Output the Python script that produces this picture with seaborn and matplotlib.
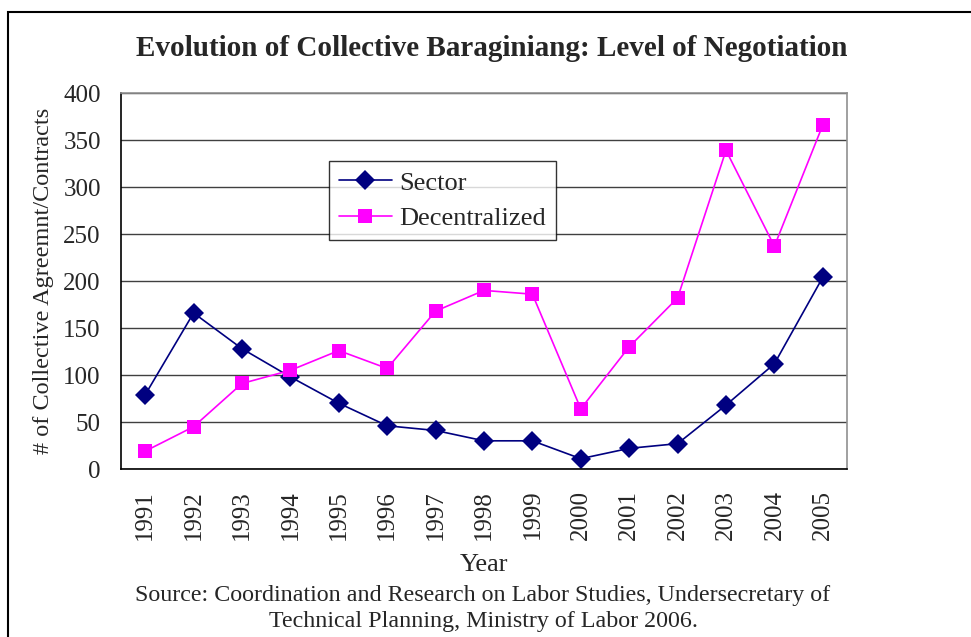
import numpy as np
import pandas as pd
import seaborn as sns
import matplotlib.pyplot as plt
from matplotlib.patches import Rectangle

years = ['1991', '1992', '1993', '1994', '1995', '1996', '1997', '1998',
         '1999', '2000', '2001', '2002', '2003', '2004', '2005']
sector = [79, 166, 128, 98, 70, 46, 41, 30, 30, 11, 22, 27, 68, 112, 204]
decentralized = [19, 45, 91, 105, 126, 107, 168, 190, 186, 64, 130, 182, 339, 237, 366]

sns.set_style('white')
plt.rcParams['font.family'] = ['Liberation Serif', 'DejaVu Serif']

df = pd.DataFrame({
    'pos': list(range(len(years))) * 2,
    'value': sector + decentralized,
    'series': ['Sector'] * len(years) + ['Decentralized'] * len(years),
})

fig = plt.figure(figsize=(9.71, 6.37), dpi=100)
ax = fig.add_axes([0.1246, 0.2637, 0.7477, 0.5903])

# outer frame of the figure
fig.patches.append(Rectangle((8 / 971, -0.05), 1.2, 1 - 12 / 637 + 0.05,
                             transform=fig.transFigure, fill=False,
                             edgecolor='black', linewidth=1.5))

sns.lineplot(data=df, x='pos', y='value', hue='series', style='series',
             palette={'Sector': '#000080', 'Decentralized': '#FF00FF'},
             markers={'Sector': 'D', 'Decentralized': 's'},
             dashes=False, markersize=10, markeredgewidth=0,
             linewidth=1.2, ax=ax)

ax.set_xlim(-0.5, len(years) - 0.5)
ax.set_ylim(0, 400)
ax.set_yticks(np.arange(0, 401, 50))
ax.set_xticks(range(len(years)))
ax.set_xticklabels(years, rotation=90, fontsize=18)
ax.set_xticks(np.arange(-0.5, len(years), 1), minor=True)
ax.tick_params(axis='x', which='major', length=0, pad=15)
ax.tick_params(axis='x', which='minor', direction='out', length=6.5, width=1, color='black')
ax.tick_params(axis='y', direction='out', length=6.5, width=1, color='black', labelsize=18, pad=8)

ax.yaxis.grid(True, color='#404040', linewidth=1)
ax.set_axisbelow(True)
for side in ['top', 'right']:
    ax.spines[side].set_color('#909090')
    ax.spines[side].set_linewidth(1.2)
for side in ['left', 'bottom']:
    ax.spines[side].set_color('black')
    ax.spines[side].set_linewidth(1.2)

ax.set_xlabel('Year', fontsize=19, labelpad=10)
ax.set_ylabel('# of Collective Agreemnt/Contracts', fontsize=17.5, labelpad=7)

leg = ax.legend(loc='upper left', bbox_to_anchor=(0.2865, 0.819), borderaxespad=0,
                fontsize=19, frameon=True, fancybox=False, edgecolor='black',
                handlelength=2.0, handletextpad=0.3, borderpad=0.38, labelspacing=0.45)
leg.get_frame().set_linewidth(1)
leg.set_title(None)

fig.text(492 / 971, 1 - 48 / 637, 'Evolution of Collective Baraginiang: Level of Negotiation',
         ha='center', va='center', fontsize=21, fontweight='bold')
fig.text(483 / 971, 1 - 595 / 637,
         'Source: Coordination and Research on Labor Studies, Undersecretary of',
         ha='center', va='center', fontsize=17.3)
fig.text(483 / 971, 1 - 622 / 637, 'Technical Planning, Ministry of Labor 2006.',
         ha='center', va='center', fontsize=17.3)

fig.savefig('out.png', dpi=100)
